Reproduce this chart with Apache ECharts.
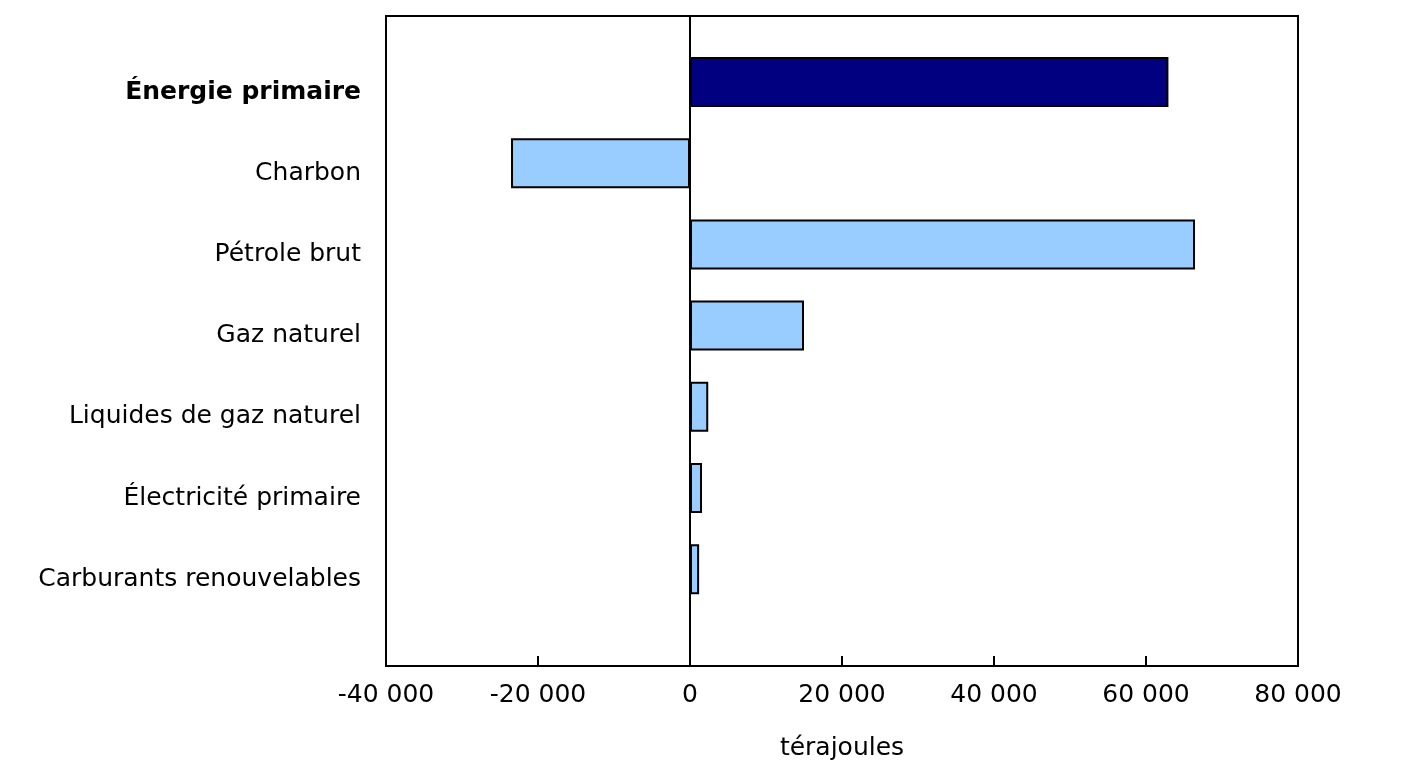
<!DOCTYPE html>
<html><head><meta charset="utf-8">
<script src="https://cdn.jsdelivr.net/npm/echarts@6/dist/echarts.min.js"></script>
<style>html,body{margin:0;padding:0;background:#fff}#c{width:1402px;height:771px}</style>
</head><body><div id="c"></div>
<script>
const categories = ['Énergie primaire','Charbon','Pétrole brut','Gaz naturel','Liquides de gaz naturel','Électricité primaire','Carburants renouvelables'];
const values = [62950, -23550, 66450, 15000, 2400, 1580, 1200];
const barColors = ['#000080','#99ccff','#99ccff','#99ccff','#99ccff','#99ccff','#99ccff'];
const xMin = -40000, xMax = 80000, xInterval = 20000;
const xName = 'térajoules';

const font = '"DejaVu Sans", Verdana, sans-serif';
const fmt = v => { const s = Math.abs(v).toString().replace(/\B(?=(\d{3})+(?!\d))/g, ' '); return (v < 0 ? '-' : '') + s; };

const chart = echarts.init(document.getElementById('c'), null, {renderer:'canvas'});
chart.setOption({
  animation: false,
  grid: [
    {left:386, right:104, top:16, height:650, show:true, borderColor:'#000', borderWidth:2, backgroundColor:'transparent', containLabel:false},
    {left:386, right:104, top:41.4, height:568.4, containLabel:false}
  ],
  xAxis: [
    {gridIndex:0, type:'value', min:xMin, max:xMax, interval:xInterval,
     name:xName, nameLocation:'middle', nameGap:70, nameTextStyle:{fontFamily:font, fontSize:25, color:'#000'},
     axisLine:{show:true, lineStyle:{color:'#000', width:2}},
     axisTick:{show:true, inside:true, length:10, lineStyle:{color:'#000', width:2}},
     axisLabel:{fontFamily:font, fontSize:25, color:'#000', margin:17, formatter:fmt},
     splitLine:{show:false}},
    {gridIndex:1, type:'value', min:xMin, max:xMax, interval:xInterval, show:false}
  ],
  yAxis: [
    {gridIndex:0, type:'value', min:0, max:1, axisLabel:{show:false}, axisTick:{show:false}, splitLine:{show:false},
     axisLine:{show:true, onZero:true, lineStyle:{color:'#000', width:2}}},
    {gridIndex:1, type:'category', inverse:true, data:categories,
     axisLine:{show:false}, axisTick:{show:false},
     axisLabel:{fontFamily:font, fontSize:25, color:'#000', margin:25, padding:[20,0,0,0],
       formatter:(v,i)=> i===0 ? '{b|'+v+'}' : v,
       rich:{b:{fontWeight:'bold', fontFamily:font, fontSize:25, color:'#000'}}}}
  ],
  series: [{
    type:'bar', xAxisIndex:1, yAxisIndex:1, barWidth:50,
    data: values.map((v,i)=>({value:v, itemStyle:{color:barColors[i], borderColor:'#000', borderWidth:2}}))
  }]
});
</script></body></html>
